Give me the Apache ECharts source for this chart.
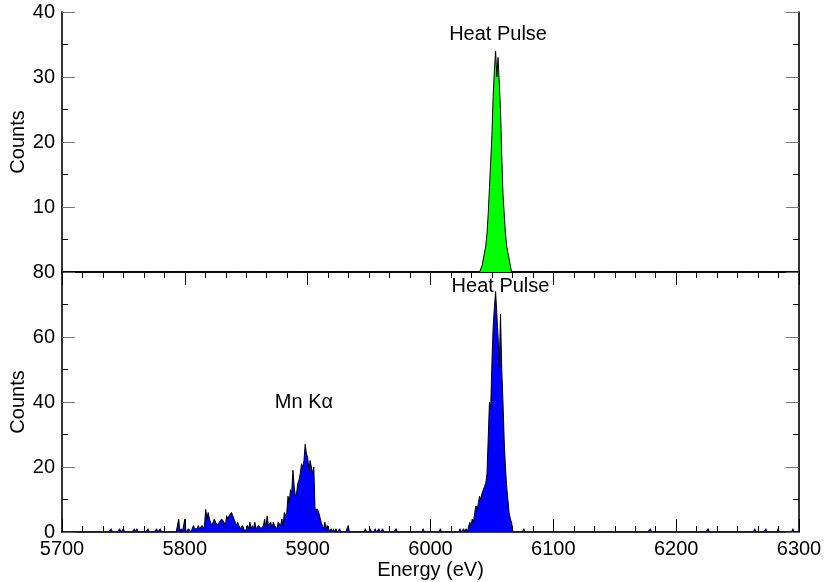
<!DOCTYPE html>
<html>
<head>
<meta charset="utf-8">
<script src="https://cdn.jsdelivr.net/npm/echarts@6/dist/echarts.min.js"></script>
<style>
  html, body { margin: 0; padding: 0; background: #fff; }
  #chart { width: 825px; height: 582px; }
</style>
</head>
<body>
<div id="chart"></div>
<script>
// spectra in 1 eV bins
const mnStart = 5793
const mnCounts = [
  0, 0, 4, 0, 1, 0, 0, 4, 0, 0,
  1, 1, 0, 1, 2, 1, 1, 1, 2, 1,
  1, 2, 1, 2, 7, 4, 6, 4, 3, 2,
  2, 4, 3, 3, 2, 3, 3, 4, 4, 3,
  2, 5, 4, 5, 5, 6, 5, 4, 3, 2,
  3, 2, 1, 1, 2, 1, 0, 1, 2, 1,
  3, 1, 2, 1, 3, 1, 1, 2, 2, 1,
  1, 2, 4, 1, 5, 2, 2, 3, 1, 3,
  2, 2, 1, 3, 3, 2, 4, 2, 6, 5,
  6, 11, 9, 13, 12, 19, 14, 11, 12, 15,
  16, 18, 21, 20, 22, 27, 24, 23, 19, 22,
  20, 18, 20, 7, 7, 7, 6, 6, 3, 3,
  1, 3, 1, 2, 1, 0, 1, 0, 1, 0,
  1, 0, 0, 1, 0, 0, 0, 0, 0, 0, 2, 0
]
const pulseLowStart = 6031
const pulseLowCounts = [
  0, 3, 2, 4, 3, 6, 8, 7, 9, 11, 10, 12, 13, 14, 15, 18, 29, 40, 38,
  52, 63, 69, 74, 67, 60, 51, 67, 50, 40, 28, 20, 14, 10, 6, 4, 3, 0
]
// isolated single counts in the lower spectrum
const strayLow = [
  5740, 5747, 5750, 5759, 5761, 5770, 5777, 5780,
  5947, 5951, 5955, 5958, 5961, 5972, 5994, 6008, 6024, 6027, 6029,
  6076, 6179, 6226, 6264, 6273, 6283, 6295
]
const pulseTopStart = 6041
const pulseTopCounts = [
  0, 1, 1, 3, 4, 6, 9, 13, 17, 21, 27, 31, 34, 30, 33, 29, 25, 18, 12, 9, 6, 4, 3, 2, 1, 0
]

const energyRange = [5700, 6300]
const topRange = [0, 40]
const lowRange = [0, 80]

function spectrum(blocks, singles) {
  let bins = {}
  blocks.forEach(b => b.counts.forEach((c, i) => { bins[b.start + i] = c }))
  singles.forEach(e => { bins[e] = 1 })
  let data = []
  for (let e = energyRange[0]; e <= energyRange[1]; e++) data.push([e, bins[e] || 0])
  return data
}

const topData = spectrum([{ start: pulseTopStart, counts: pulseTopCounts }], [])
const lowData = spectrum([
  { start: mnStart, counts: mnCounts },
  { start: pulseLowStart, counts: pulseLowCounts }
], strayLow)

const font = '"Liberation Sans", Arial, Helvetica, sans-serif'
const axisLine = { show: true, lineStyle: { color: '#000', width: 1.6 } }

function xAxis(grid, pos, opts) {
  return Object.assign({
    type: 'value',
    gridIndex: grid,
    position: pos,
    min: energyRange[0],
    max: energyRange[1],
    interval: 100,
    axisLine: axisLine,
    axisTick: { show: true, inside: true, length: 13, lineStyle: { color: '#000', width: 1 } },
    minorTick: { show: true, splitNumber: 6, length: 6, lineStyle: { color: '#000', width: 1 } },
    axisLabel: { show: false },
    splitLine: { show: false }
  }, opts)
}

function yAxis(grid, pos, range, step, opts) {
  return Object.assign({
    type: 'value',
    gridIndex: grid,
    position: pos,
    min: range[0],
    max: range[1],
    interval: step,
    axisLine: axisLine,
    axisTick: { show: true, inside: true, length: 13, lineStyle: { color: '#777', width: 1 } },
    minorTick: { show: true, splitNumber: 2, length: 6, lineStyle: { color: '#000', width: 1 } },
    axisLabel: { show: false },
    splitLine: { show: false }
  }, opts)
}

function note(text, coord) {
  return {
    symbol: 'circle',
    symbolSize: 1,
    itemStyle: { color: 'transparent' },
    silent: true,
    label: { show: true, position: 'inside', formatter: text, color: '#000', fontSize: 20, fontFamily: font },
    data: [{ coord: coord }]
  }
}

let myChart = echarts.init(document.getElementById('chart'))
let option = {
  animation: false,
  backgroundColor: '#fff',
  textStyle: { fontFamily: font },
  grid: [
    { left: 62, right: 26, top: 12, height: 260, containLabel: false, outerBoundsMode: 'none' },
    { left: 62, right: 26, top: 272, height: 260, containLabel: false, outerBoundsMode: 'none' }
  ],
  xAxis: [
    xAxis(0, 'bottom', { axisTick: { show: false }, minorTick: { show: false } }),
    xAxis(0, 'top', {}),
    xAxis(1, 'bottom', {
      axisLabel: { show: true, color: '#000', fontSize: 20, margin: 7, formatter: v => String(v) },
      name: 'Energy (eV)',
      nameLocation: 'middle',
      nameGap: 28,
      nameMoveOverlap: false,
      nameTextStyle: { color: '#000', fontSize: 20 }
    })
  ],
  yAxis: [
    yAxis(0, 'left', topRange, 10, {
      axisLabel: { show: true, showMinLabel: false, color: '#000', fontSize: 20, margin: 7 },
      name: 'Counts',
      nameLocation: 'middle',
      nameGap: 34,
      nameMoveOverlap: false,
      nameTextStyle: { color: '#000', fontSize: 20 }
    }),
    yAxis(0, 'right', topRange, 10, {}),
    yAxis(1, 'left', lowRange, 20, {
      axisLabel: { show: true, color: '#000', fontSize: 20, margin: 7 },
      name: 'Counts',
      nameLocation: 'middle',
      nameGap: 34,
      nameMoveOverlap: false,
      nameTextStyle: { color: '#000', fontSize: 20 }
    }),
    yAxis(1, 'right', lowRange, 20, {})
  ],
  series: [
    {
      type: 'line',
      xAxisIndex: 0,
      yAxisIndex: 0,
      data: topData,
      symbol: 'none',
      lineStyle: { color: '#000', width: 1 },
      areaStyle: { color: '#00ff00', opacity: 1 },
      markPoint: note('Heat Pulse', [6055, 36.5]),
      z: 2
    },
    {
      type: 'line',
      xAxisIndex: 2,
      yAxisIndex: 2,
      data: lowData,
      symbol: 'none',
      lineStyle: { color: '#000', width: 1 },
      areaStyle: { color: '#0000ff', opacity: 1 },
      markPoint: {
        symbol: 'circle',
        symbolSize: 1,
        itemStyle: { color: 'transparent' },
        silent: true,
        label: { show: true, position: 'inside', color: '#000', fontSize: 20, fontFamily: font },
        data: [
          { coord: [6057, 75.5], label: { formatter: 'Heat Pulse' } },
          { coord: [5897, 40], label: { formatter: 'Mn Kα' } }
        ]
      },
      z: 2
    }
  ]
}
myChart.setOption(option)
</script>
</body>
</html>
